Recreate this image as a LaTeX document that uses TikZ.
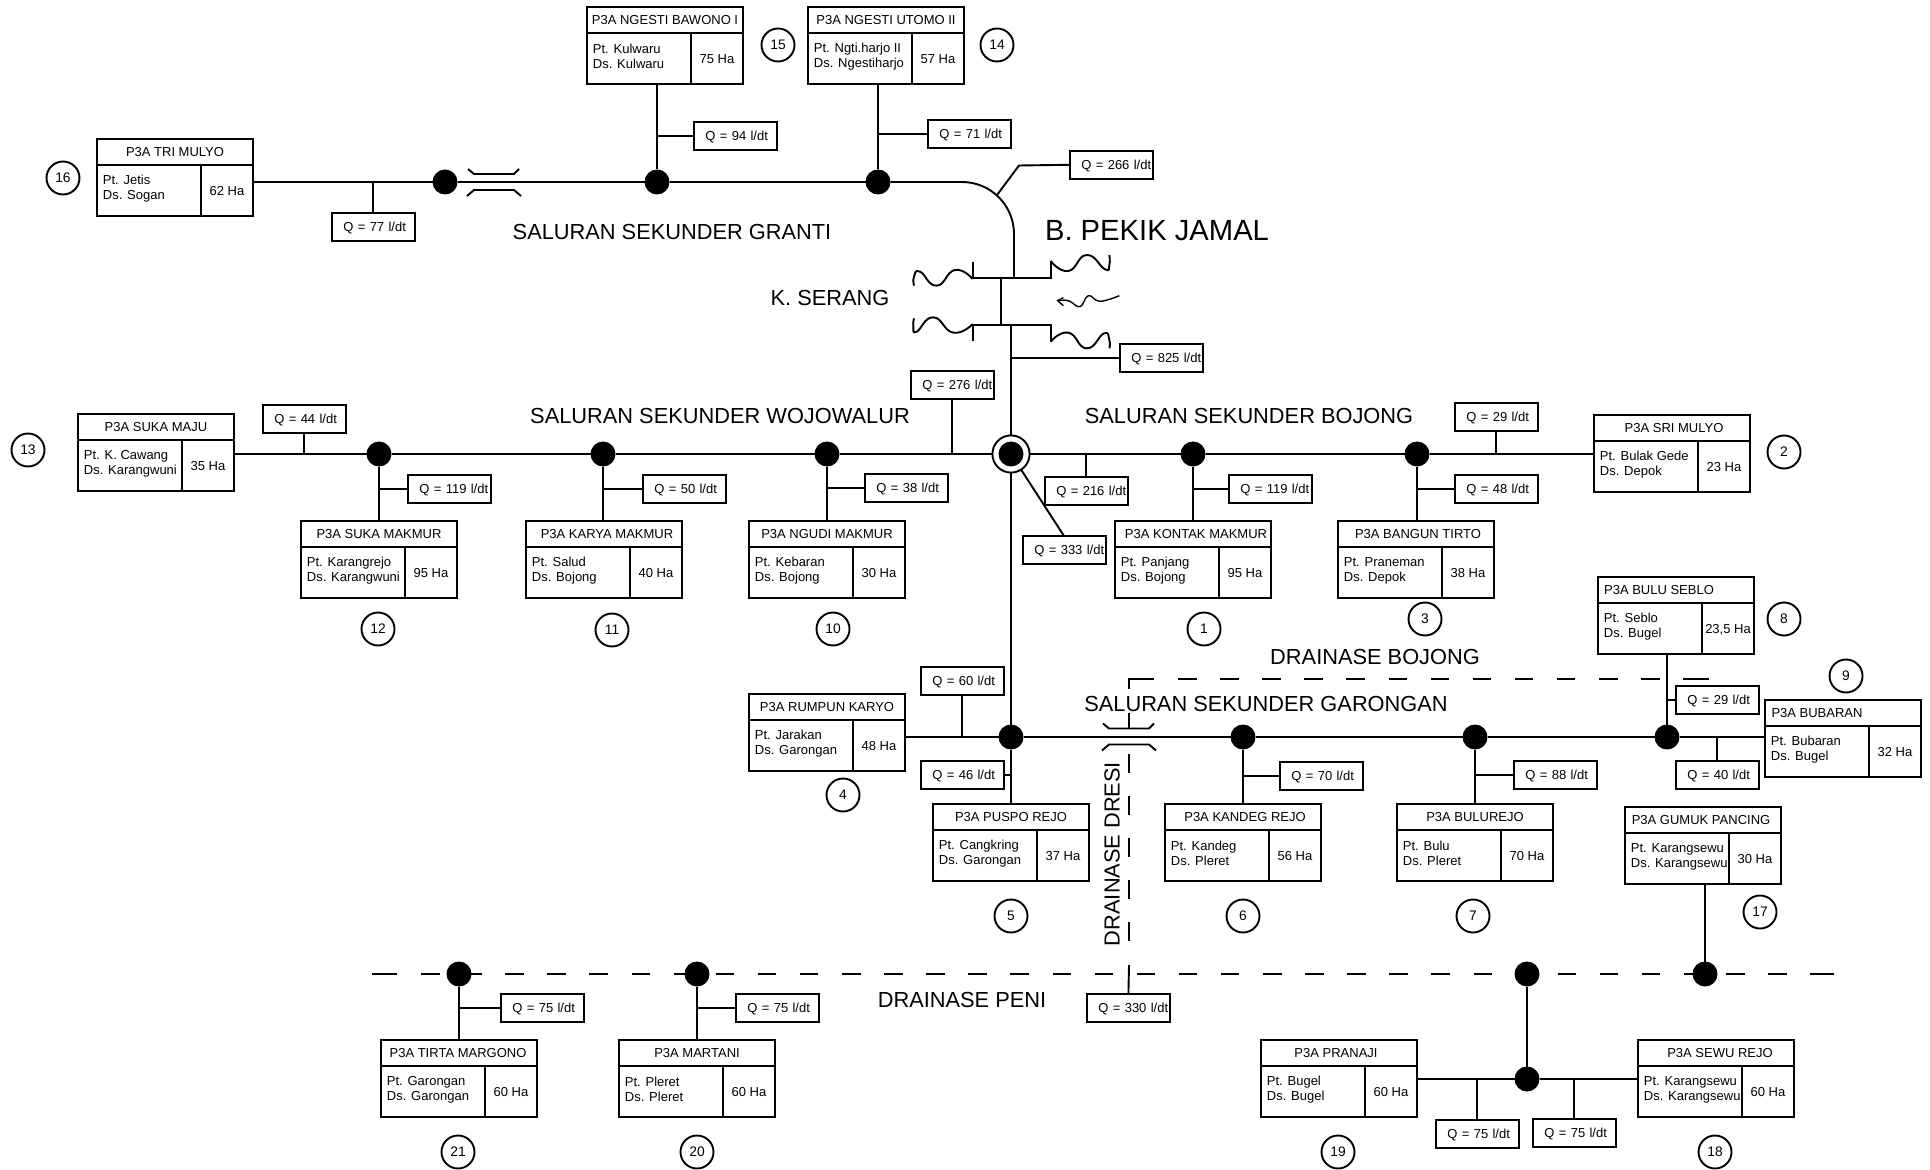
\documentclass[tikz,border=0pt]{standalone}
\usepackage{fontspec}
\setmainfont{Liberation Sans}
\tikzset{
  ln/.style={line width=0.95pt},
  smalltxt/.style={font=\fontsize{6.5}{7.5}\selectfont},
  bigtxt/.style={font=\fontsize{10.9}{12}\selectfont,inner sep=0pt},
  plain/.style={ln,draw,rectangle,inner sep=0pt},
  celltxt/.style={smalltxt,inner sep=0pt},
  captxt/.style={smalltxt,inner sep=0pt,text height=4.65pt,text depth=0pt},
  qbx/.style={plain,smalltxt,fill=white,anchor=north west,text width=41.4pt,text height=4.65pt,text depth=0pt,minimum height=13.8pt,align=left,outer sep=0pt},
  jct/.style={circle,fill=black,inner sep=0pt,minimum size=12.5pt,outer sep=0pt},
  numc/.style={circle,ln,draw,inner sep=0pt,minimum size=16.5pt,font=\fontsize{6.9}{8}\selectfont,text height=4.9pt,text depth=0pt},
  dashln/.style={ln,dash pattern=on 9.25pt off 11.8pt},
}
\newcommand{\irrbox}[8]{%
  \begin{scope}[shift={(#2,#3)}]
    \node[plain,anchor=north west,minimum width=77.8pt,minimum height=38.6pt,outer sep=0pt] (#1) at (0,0) {};
    \draw[ln] (0,26) -- (155.6,26);
    \draw[ln] (104,26) -- (104,77.2);
    \node[captxt] (#1t) at (78+#4,13) {#5};
    \node[celltxt,anchor=west,align=left] (#1l) at (5.5,49.5) {#6\\#7};
    \node[captxt] (#1h) at (130,52) {#8};
  \end{scope}}
\newcommand{\qnode}[4]{\node[qbx] (#1) at (#2,#3) {\hspace*{5.7pt}#4};}
\newcommand{\bridgemark}[2]{%
  \begin{scope}[shift={(#1,#2)}]
    \draw[ln] (-26,-13) -- (-20,-8) -- (20,-8) -- (25,-13);
    \draw[ln] (-27,14) -- (-20,8) -- (20,8) -- (27,14);
  \end{scope}}
\begin{document}
\begin{tikzpicture}[x=0.5pt,y=-0.5pt]
\useasboundingbox (0,0) rectangle (1930,1170);

% irrigation association boxes
\irrbox{b16}{97}{139}{0}{P3A TRI MULYO}{Pt. Jetis}{Ds. Sogan}{62 Ha}
\irrbox{b15}{587}{7}{0}{P3A NGESTI BAWONO I}{Pt. Kulwaru}{Ds. Kulwaru}{75 Ha}
\irrbox{b14}{808}{7}{0}{P3A NGESTI UTOMO II}{Pt. Ngti.harjo II}{Ds. Ngestiharjo}{57 Ha}
\irrbox{b13}{78}{414}{0}{P3A SUKA MAJU}{Pt. K. Cawang}{Ds. Karangwuni}{35 Ha}
\irrbox{b12}{301}{521}{0}{P3A SUKA MAKMUR}{Pt. Karangrejo}{Ds. Karangwuni}{95 Ha}
\irrbox{b11}{526}{521}{3}{P3A KARYA MAKMUR}{Pt. Salud}{Ds. Bojong}{40 Ha}
\irrbox{b10}{749}{521}{0}{P3A NGUDI MAKMUR}{Pt. Kebaran}{Ds. Bojong}{30 Ha}
\irrbox{b1}{1115}{521}{3}{P3A KONTAK MAKMUR}{Pt. Panjang}{Ds. Bojong}{95 Ha}
\irrbox{b3}{1338}{521}{2}{P3A BANGUN TIRTO}{Pt. Praneman}{Ds. Depok}{38 Ha}
\irrbox{b2}{1594}{415}{2}{P3A SRI MULYO}{Pt. Bulak Gede}{Ds. Depok}{23 Ha}
\irrbox{b8}{1598}{577}{-17}{P3A BULU SEBLO}{Pt. Seblo}{Ds. Bugel}{23,5 Ha}
\irrbox{b9}{1765}{700}{-26}{P3A BUBARAN}{Pt. Bubaran}{Ds. Bugel}{32 Ha}
\irrbox{b17}{1625}{807}{-2}{P3A GUMUK PANCING}{Pt. Karangsewu}{Ds. Karangsewu}{30 Ha}
\irrbox{b4}{749}{694}{0}{P3A RUMPUN KARYO}{Pt. Jarakan}{Ds. Garongan}{48 Ha}
\irrbox{b5}{933}{804}{0}{P3A PUSPO REJO}{Pt. Cangkring}{Ds. Garongan}{37 Ha}
\irrbox{b6}{1165}{804}{2}{P3A KANDEG REJO}{Pt. Kandeg}{Ds. Pleret}{56 Ha}
\irrbox{b7}{1397}{804}{0}{P3A BULUREJO}{Pt. Bulu}{Ds. Pleret}{70 Ha}
\irrbox{b21}{381}{1040}{-1}{P3A TIRTA MARGONO}{Pt. Garongan}{Ds. Garongan}{60 Ha}
\irrbox{b20}{619}{1040}{0}{P3A MARTANI}{Pt. Pleret}{Ds. Pleret}{60 Ha}
\irrbox{b19}{1261}{1040}{-3}{P3A PRANAJI}{Pt. Bugel}{Ds. Bugel}{60 Ha}
\irrbox{b18}{1638}{1040}{4}{P3A SEWU REJO}{Pt. Karangsewu}{Ds. Karangsewu}{60 Ha}

% discharge boxes
\qnode{q94}{694}{122}{Q = 94 l/dt}
\qnode{q71}{928}{120}{Q = 71 l/dt}
\qnode{q266}{1070}{151}{Q = 266 l/dt}
\qnode{q825}{1120}{344}{Q = 825 l/dt}
\qnode{q276}{911}{371}{Q = 276 l/dt}
\qnode{q216}{1045}{477}{Q = 216 l/dt}
\qnode{q77}{332}{213}{Q = 77 l/dt}
\qnode{q44}{263}{405}{Q = 44 l/dt}
\qnode{q119a}{408}{475}{Q = 119 l/dt}
\qnode{q50}{643}{475}{Q = 50 l/dt}
\qnode{q38}{865}{474}{Q = 38 l/dt}
\qnode{q333}{1023}{536}{Q = 333 l/dt}
\qnode{q119b}{1229}{475}{Q = 119 l/dt}
\qnode{q48}{1455}{475}{Q = 48 l/dt}
\qnode{q29a}{1455}{403}{Q = 29 l/dt}
\qnode{q60}{921}{667}{Q = 60 l/dt}
\qnode{q46}{921}{761}{Q = 46 l/dt}
\qnode{q70}{1280}{762}{Q = 70 l/dt}
\qnode{q88}{1514}{761}{Q = 88 l/dt}
\qnode{q29b}{1676}{686}{Q = 29 l/dt}
\qnode{q40}{1676}{761}{Q = 40 l/dt}
\qnode{q75a}{501}{994}{Q = 75 l/dt}
\qnode{q75b}{736}{994}{Q = 75 l/dt}
\qnode{q330}{1087}{994}{Q = 330 l/dt}
\qnode{q75c}{1436}{1120}{Q = 75 l/dt}
\qnode{q75d}{1533}{1119}{Q = 75 l/dt}

% junctions
\node[jct] (j16) at (445,182) {};
\node[jct] (j15) at (657,182) {};
\node[jct] (j14) at (878,182) {};
\node[jct] (j12) at (379,454) {};
\node[jct] (j11) at (603,454) {};
\node[jct] (j10) at (827,454) {};
\node[jct] (j1) at (1193,454) {};
\node[jct] (j3) at (1417,454) {};
\node[jct] (jg) at (1011,737) {};
\node[jct] (j6) at (1243,737) {};
\node[jct] (j7) at (1475,737) {};
\node[jct] (j8) at (1667,737) {};
\node[jct] (j21) at (459,974) {};
\node[jct] (j20) at (697,974) {};
\node[jct] (jp) at (1527,974) {};
\node[jct] (j17) at (1705,974) {};
\node[jct] (jq) at (1527,1079) {};
\node[circle,ln,draw,fill=white,inner sep=0pt,minimum size=18.6pt,outer sep=0pt] (main) at (1011,454) {};
\node[jct] (maini) at (1011,454) {};

% numbers
\node[numc] (n16) at (63,178) {16};
\node[numc] (n15) at (778,45) {15};
\node[numc] (n14) at (997,45) {14};
\node[numc] (n13) at (28,450) {13};
\node[numc] (n12) at (378,629) {12};
\node[numc] (n11) at (612,630) {11};
\node[numc] (n10) at (833,629) {10};
\node[numc] (n1) at (1204,629) {1};
\node[numc] (n3) at (1425,619) {3};
\node[numc] (n2) at (1784,452) {2};
\node[numc] (n8) at (1784,619) {8};
\node[numc] (n9) at (1846,676) {9};
\node[numc] (n4) at (843,795) {4};
\node[numc] (n5) at (1011,916) {5};
\node[numc] (n6) at (1243,916) {6};
\node[numc] (n7) at (1473,916) {7};
\node[numc] (n17) at (1760,912) {17};
\node[numc] (n21) at (458,1152) {21};
\node[numc] (n20) at (697,1152) {20};
\node[numc] (n19) at (1338,1152) {19};
\node[numc] (n18) at (1715,1152) {18};

% labels
\node[bigtxt] (lgr) at (672,232) {SALURAN SEKUNDER GRANTI};
\node[inner sep=0pt,font=\fontsize{14.6}{16}\selectfont] (lpj) at (1157,231) {B. PEKIK JAMAL};
\node[bigtxt] (lks) at (830,298) {K. SERANG};
\node[bigtxt] (lwo) at (720,416) {SALURAN SEKUNDER WOJOWALUR};
\node[bigtxt] (lbo) at (1249,416) {SALURAN SEKUNDER BOJONG};
\node[bigtxt] (ldb) at (1375,657) {DRAINASE BOJONG};
\node[bigtxt] (lga) at (1266,704) {SALURAN SEKUNDER GARONGAN};
\node[bigtxt,rotate=90] (ldr) at (1112,854) {DRAINASE DRESI};
\node[bigtxt] (lpe) at (962,1000) {DRAINASE PENI};

% Granti line
\draw[ln] (b16.east |- j16) -- (j16);
\draw[ln] (j16) -- (j15);
\draw[ln] (j15) -- (j14);
\coordinate (bendA) at (962,182);
\coordinate (bendB) at (1014,234);
\coordinate (barA) at (1014,278);
\coordinate (barAl) at (973,278);
\coordinate (barAr) at (1051,278);
\coordinate (barMl) at (1001,278);
\coordinate (barB) at (1001,325);
\coordinate (barBl) at (973,325);
\coordinate (barBr) at (1051,325);
\coordinate (barC) at (1011,325);
\draw[ln] (j14) -- (bendA) .. controls (990.7,182) and (1014,205.3) .. (bendB) -- (barA);
\draw[ln] (q77.north) -- (q77.north |- j16);
\draw[ln] (b15.south -| j15) -- (j15);
\draw[ln] (b14.south -| j14) -- (j14);
\draw[ln] (q94.west) -- (q94.west -| j15);
\draw[ln] (q71.west) -- (q71.west -| j14);
\coordinate (k266) at (1019,165.5);
\coordinate (a266) at (997,195);
\draw[ln] (q266.west) -- (k266) -- (a266);
\bridgemark{494}{182}

% weir
\draw[ln] (973,262) -- (barAl) -- (barAr) -- (1051,261);
\draw[ln] (barMl) -- (barB);
\draw[ln] (973,341) -- (barBl) -- (barBr) -- (1051,342);
\draw[ln] (barC) -- (main);
\draw[ln] (q825.west) -- (q825.west -| barC);
\begin{scope}[shift={(900,130)},x=0.16667pt,y=-0.16667pt]
  \draw[ln] plot[smooth,tension=0.9] coordinates {(218,447) (165,420) (110,467) (60,425) (42,440) (42,467)};
  \draw[ln] plot[smooth,tension=0.9] coordinates {(452,393) (505,423) (560,375) (615,418) (628,405) (628,375)};
  \draw[ln] plot[smooth,tension=0.9] coordinates {(218,582) (160,608) (100,562) (50,605) (40,590) (42,565)};
  \draw[ln] plot[smooth,tension=0.9] coordinates {(452,635) (505,608) (560,655) (612,610) (628,630) (628,655)};
  \draw[line width=0.7pt] plot[smooth,tension=0.7] coordinates {(658,497) (600,514) (565,497) (540,530) (505,512) (473,512)};
  \draw[line width=0.7pt] (490,503) -- (473,512) -- (490,527);
\end{scope}

% Wojowalur line
\draw[ln] (b13.east |- j12) -- (j12);
\draw[ln] (j12) -- (j11);
\draw[ln] (j11) -- (j10);
\draw[ln] (j10) -- (main);
\draw[ln] (q44.south) -- (q44.south |- j12);
\draw[ln] (q276.south) -- (q276.south |- main);
\draw[ln] (j12) -- (b12.north -| j12);
\draw[ln] (j11) -- (j11 |- b11.north);
\draw[ln] (j10) -- (j10 |- b10.north);
\draw[ln] (q119a.west) -- (q119a.west -| j12);
\draw[ln] (q50.west) -- (q50.west -| j11);
\draw[ln] (q38.west) -- (q38.west -| j10);

% Bojong line
\draw[ln] (main) -- (j1);
\draw[ln] (j1) -- (j3);
\draw[ln] (j3) -- (j3 -| b2.west);
\draw[ln] (q216.north) -- (q216.north |- main);
\draw[ln] (q29a.south) -- (q29a.south |- j3);
\draw[ln] (j1) -- (j1 |- b1.north);
\draw[ln] (j3) -- (j3 |- b3.north);
\draw[ln] (q119b.west) -- (q119b.west -| j1);
\draw[ln] (q48.west) -- (q48.west -| j3);
\coordinate (d333) at (1064,536);
\draw[ln] (main) -- (d333);

% main down and Garongan line
\draw[ln] (main) -- (jg);
\draw[ln] (b4.east |- jg) -- (jg);
\draw[ln] (jg) -- (j6);
\draw[ln] (j6) -- (j7);
\draw[ln] (j7) -- (j8);
\draw[ln] (j8) -- (j8 -| b9.west);
\draw[ln] (q60.south) -- (q60.south |- jg);
\draw[ln] (jg) -- (jg |- b5.north);
\draw[ln] (j6) -- (j6 |- b6.north);
\draw[ln] (j7) -- (j7 |- b7.north);
\draw[ln] (q46.east) -- (q46.east -| jg);
\draw[ln] (q70.west) -- (q70.west -| j6);
\draw[ln] (q88.west) -- (q88.west -| j7);
\draw[ln] (j8) -- (j8 |- b8.south);
\draw[ln] (q29b.west) -- (q29b.west -| j8);
\draw[ln] (q40.north) -- (q40.north |- j8);
\bridgemark{1129}{736.5}

% drains
\coordinate (dbA) at (1129,689);
\coordinate (dbC) at (1129,679);
\coordinate (dbB) at (1154,679);
\draw[ln] (dbA) -- (dbC) -- (dbB);
\coordinate (dbS) at (1178,679);
\coordinate (dbE) at (1683,679);
\draw[dashln] (dbS) -- (dbE);
\coordinate (dbF) at (1709,679);
\draw[ln] (dbE) -- (dbF);
\coordinate (dvA) at (1129,713);
\coordinate (dvB) at (1129,729);
\draw[ln] (dvA) -- (dvB);
\coordinate (dvC) at (1129,754);
\coordinate (dvD) at (1129,952);
\draw[dashln] (dvC) -- (dvD);
\coordinate (dvE) at (1129,965);
\draw[ln] (dvE) -- (q330.north);

\coordinate (peA) at (372,974);
\coordinate (peB) at (397,974);
\coordinate (peC) at (421,974);
\coordinate (peD) at (1810,974);
\coordinate (peE) at (1834,974);
\draw[ln] (peA) -- (peB);
\draw[dashln] (peC) -- (peD);
\draw[ln] (peD) -- (peE);

\draw[ln] (j21) -- (j21 |- b21.north);
\draw[ln] (j20) -- (j20 |- b20.north);
\draw[ln] (q75a.west) -- (q75a.west -| j21);
\draw[ln] (q75b.west) -- (q75b.west -| j20);
\draw[ln] (jp) -- (jq);
\draw[ln] (j17) -- (j17 |- b17.south);
\draw[ln] (jq) -- (jq -| b18.west);
\draw[ln] (jq) -- (jq -| b19.east);
\draw[ln] (q75c.north) -- (q75c.north |- jq);
\draw[ln] (q75d.north) -- (q75d.north |- jq);
\end{tikzpicture}
\end{document}
